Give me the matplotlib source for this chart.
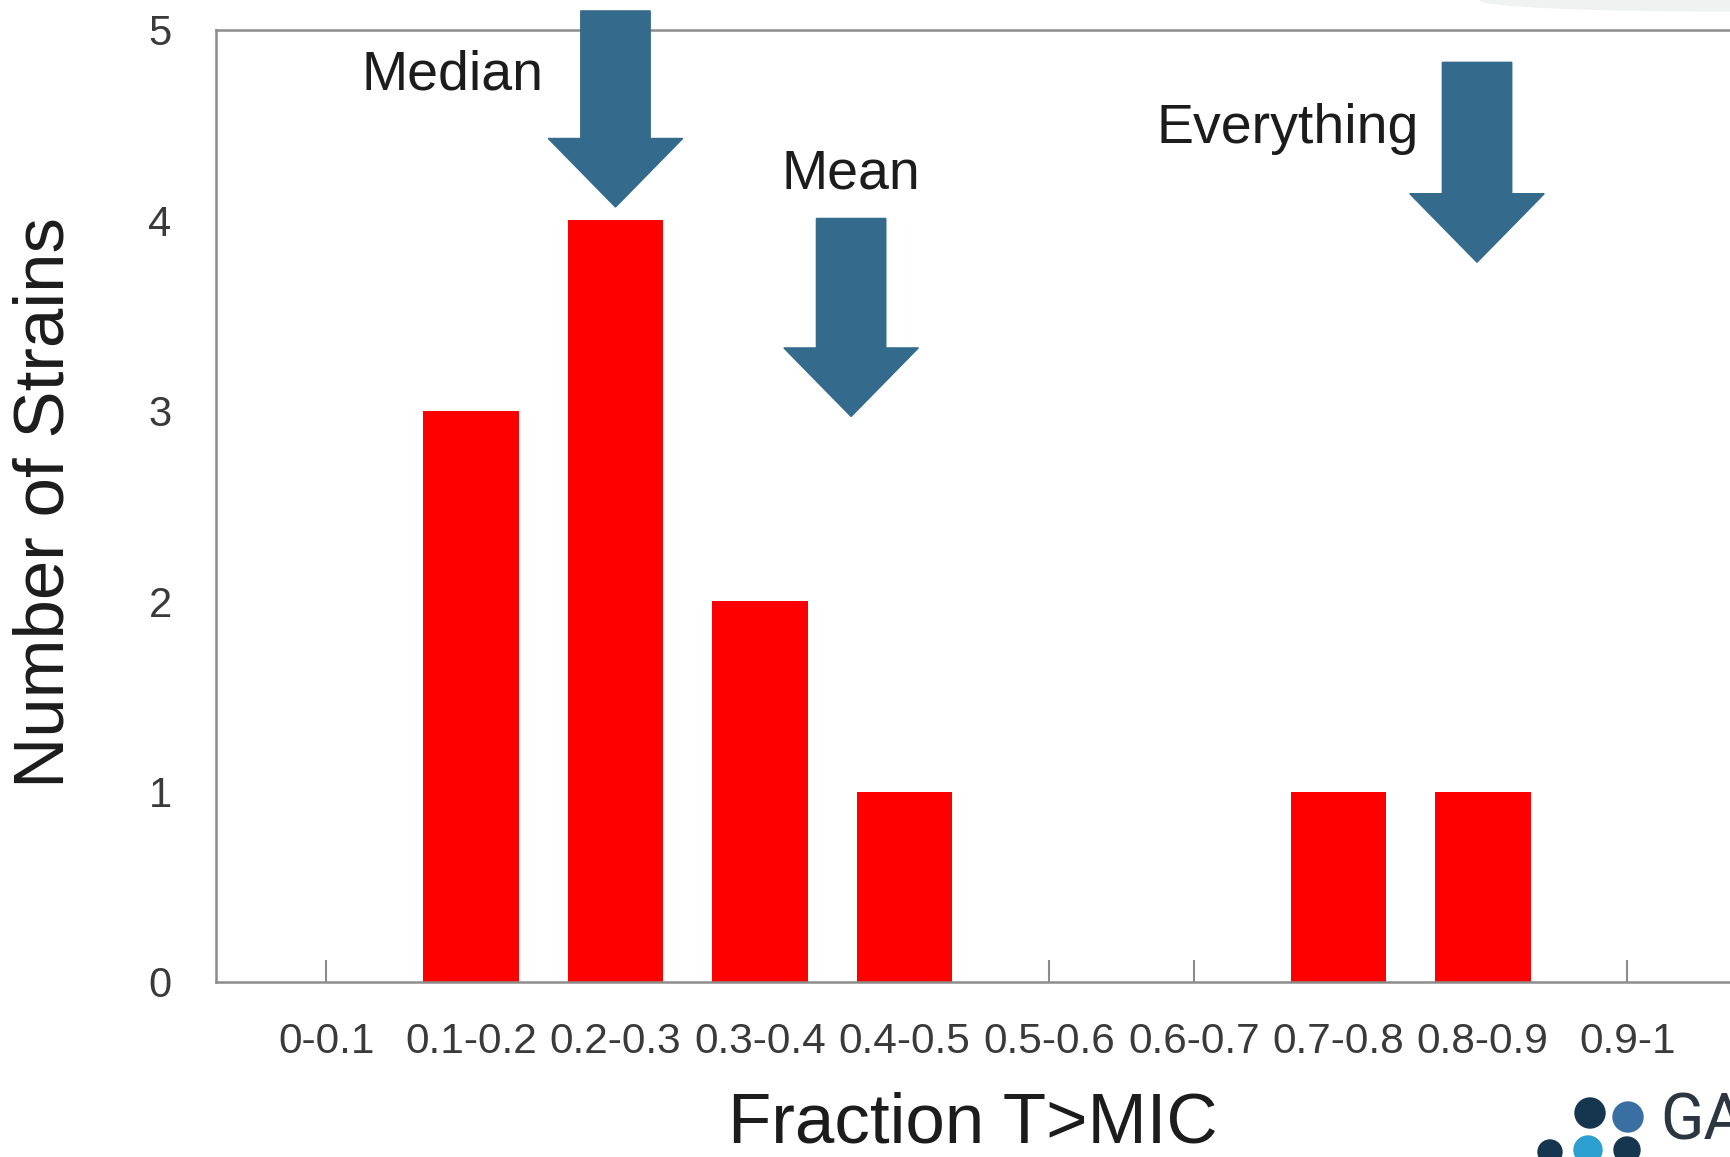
import matplotlib
matplotlib.use("Agg")
import matplotlib.pyplot as plt
from matplotlib.patches import FancyArrow, Circle, Ellipse

# histogram of strains by fraction of time above MIC
categories = ["0-0.1", "0.1-0.2", "0.2-0.3", "0.3-0.4", "0.4-0.5",
              "0.5-0.6", "0.6-0.7", "0.7-0.8", "0.8-0.9", "0.9-1"]
counts = [0, 3, 4, 2, 1, 0, 0, 1, 1, 0]
yticks = [0, 1, 2, 3, 4, 5]

# callouts: label, label x, label y, arrow x, arrow top, arrow tip
callout_labels = ["Median", "Mean", "Everything"]
callout_text_x = [0.87, 3.63, 6.65]
callout_text_y = [4.76, 4.24, 4.48]
arrow_x = [2.0, 3.63, 7.96]
arrow_top = [5.10, 4.01, 4.83]
arrow_tip = [4.07, 2.97, 3.78]

plt.rcParams['font.family'] = ['Liberation Sans', 'DejaVu Sans']

fig = plt.figure(figsize=(17.3, 11.57), dpi=100)
ax = fig.add_axes([0.1249, 0.1513, 0.8751, 0.8228])

x = list(range(len(categories)))
ax.bar(x, counts, width=0.66, color="#ff0000", zorder=2)

ax.set_xlim(-0.763, 9.71)
ax.set_ylim(0, 5)
ax.set_xticks(x)
ax.set_xticklabels(categories)
ax.set_yticks(yticks)

ax.tick_params(axis="x", direction="in", length=16, width=1.5, color="#8c8c8c",
               pad=29, labelsize=30.5, labelcolor="#3a3a3a")
ax.tick_params(axis="y", length=0, pad=32, labelsize=30, labelcolor="#3a3a3a")

for side in ["left", "bottom", "top"]:
    ax.spines[side].set_color("#8c8c8c")
    ax.spines[side].set_linewidth(1.8)
ax.spines["right"].set_visible(False)

for lab, tx, ty, axx, top, tip in zip(callout_labels, callout_text_x, callout_text_y,
                                     arrow_x, arrow_top, arrow_tip):
    ax.text(tx, ty, lab, ha="center", va="center", fontsize=40, color="#1c1c1c")
    arr = FancyArrow(axx, top, 0, tip - top, width=0.48, head_width=0.93,
                     head_length=0.36, length_includes_head=True,
                     color="#346a8c", clip_on=False, zorder=3)
    ax.add_patch(arr)

fig.text(46 / 1730, 0.566, "Number of Strains", rotation=90, ha="center",
         va="center", fontsize=51, color="#1c1c1c")
fig.text(973 / 1730, 0.028, "Fraction T>MIC", ha="center", va="center",
         fontsize=51, color="#1c1c1c")

# slide background shading top right
fig.add_artist(Ellipse((17.3, 11.57), 5.0, 0.22, transform=fig.dpi_scale_trans,
                       color="#f0f2f2", zorder=0))

# partial logo, bottom right
for cx, cy, r, c in [(15.90, 0.44, 0.15, "#163650"), (16.28, 0.40, 0.15, "#3a6fa3"),
                     (15.88, 0.07, 0.14, "#2a9fd0"), (15.50, 0.05, 0.12, "#163650"),
                     (16.27, 0.07, 0.13, "#163650")]:
    fig.add_artist(Circle((cx, cy), r, transform=fig.dpi_scale_trans, color=c))
fig.text(1660 / 1730, 0.004, "GA", ha="left", va="bottom", fontsize=46,
         color="#2b3640", family=["Roboto", "DejaVu Sans"])

fig.savefig("out.png", dpi=100)
